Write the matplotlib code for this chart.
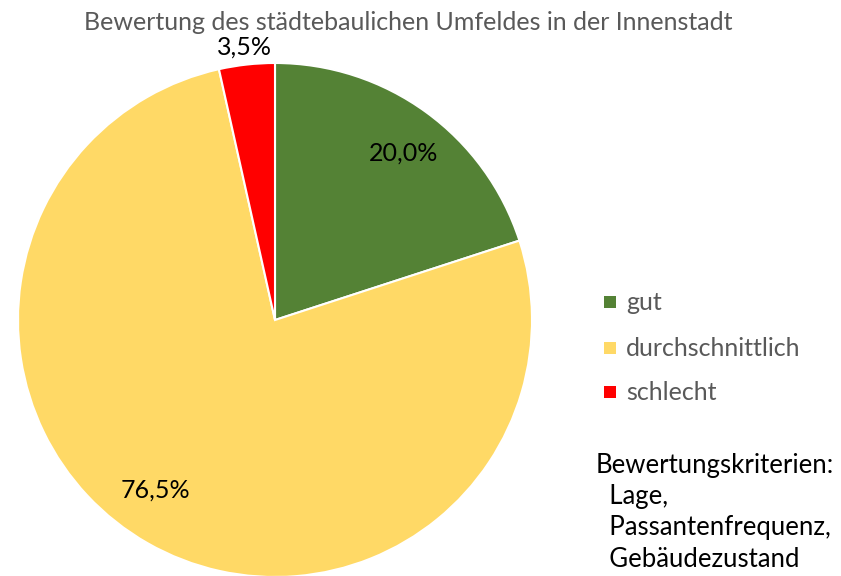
import matplotlib
matplotlib.use("Agg")
import matplotlib.pyplot as plt
from matplotlib.patches import Rectangle
import numpy as np

plt.rcParams["font.family"] = ["Lato", "DejaVu Sans"]

categories = ["gut", "durchschnittlich", "schlecht"]
shares = [20.0, 76.5, 3.5]
colors = ["#548235", "#FFD966", "#FF0000"]
title = "Bewertung des städtebaulichen Umfeldes in der Innenstadt"
criteria = ["Bewertungskriterien:", "  Lage,", "  Passantenfrequenz,", "  Gebäudezustand"]

W, H = 841, 576
fig = plt.figure(figsize=(W / 100, H / 100), dpi=100)

cx, cy, r = 275, H - 320, 257
ax = fig.add_axes([(cx - r) / W, (cy - r) / H, 2 * r / W, 2 * r / H])
wedges, _ = ax.pie(shares, colors=colors, startangle=90, counterclock=False,
                   radius=1.0, wedgeprops=dict(edgecolor="white", linewidth=1.5))
ax.set_xlim(-1, 1)
ax.set_ylim(-1, 1)
ax.set_aspect("equal")
ax.axis("off")

# label placement: radius and angular shift from the wedge middle
label_r = [0.82, 0.81, 1.07]
label_shift = [-1.5, -5.5, 0.0]
angle = 90.0
for v, lr, sh in zip(shares, label_r, label_shift):
    mid = np.deg2rad(angle - v * 3.6 / 2 + sh)
    angle -= v * 3.6
    ax.text(lr * np.cos(mid), lr * np.sin(mid), f"{v:.1f}".replace(".", ",") + "%",
            ha="center", va="center", fontsize=18, color="black", clip_on=False)

fig.text(408 / W, 1 - 22 / H, title, ha="center", va="center", fontsize=18, color="#595959")

leg_y = [302, 348, 392]
for name, c, y in zip(categories, colors, leg_y):
    fig.patches.append(Rectangle((604 / W, 1 - (y + 6) / H), 12 / W, 12 / H,
                                 transform=fig.transFigure, facecolor=c, edgecolor="none"))
    fig.text(626 / W, 1 - y / H, name, ha="left", va="center", fontsize=18, color="#595959")

for i, line in enumerate(criteria):
    fig.text(596 / W, 1 - (465 + 31.5 * i) / H, line, ha="left", va="center",
             fontsize=18.5, color="black")

fig.savefig("out.png", dpi=100, facecolor="white")
